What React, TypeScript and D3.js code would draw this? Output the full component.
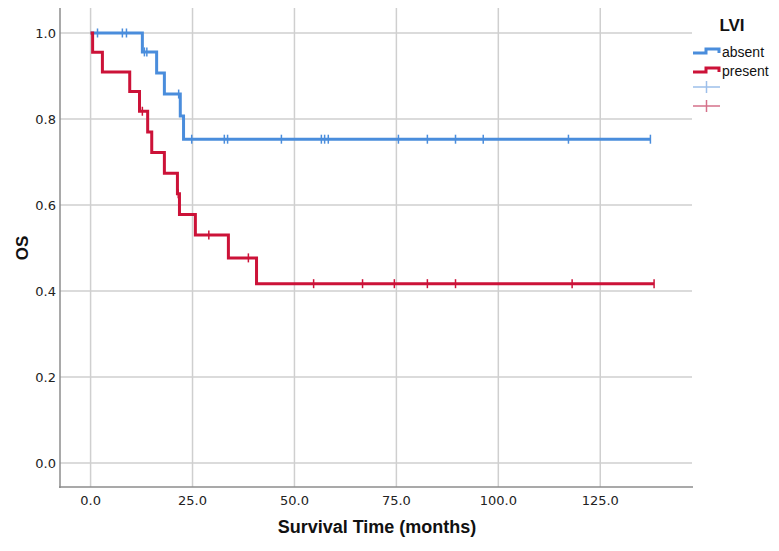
import {useEffect, useRef} from 'react';
import * as d3 from 'd3';

// Kaplan-Meier steps (months, survival)
const absentTimes = [0, 12.7, 16.2, 18.1, 22.0, 22.8];
const absentSurv = [1, 0.956, 0.907, 0.858, 0.807, 0.753];
const absentEnd = 137.3;
const absentCensor = [1.7, 7.8, 8.8, 13.2, 13.8, 21.6, 24.8, 32.8, 33.6, 46.8, 56.6, 57.4, 58.3, 75.5, 82.6, 89.5, 96.3, 117.2, 137.3];

const presentTimes = [0, 0.5, 2.9, 9.6, 12.0, 14.0, 15.0, 18.1, 21.3, 21.8, 25.7, 33.8, 40.7];
const presentSurv = [1, 0.955, 0.909, 0.864, 0.818, 0.770, 0.722, 0.674, 0.626, 0.578, 0.530, 0.477, 0.417];
const presentEnd = 138.2;
const presentCensor = [12.7, 21.5, 29.0, 38.7, 54.7, 66.7, 74.5, 82.6, 89.5, 118.1, 138.2];

const xTicks = [0, 25, 50, 75, 100, 125];
const yTicks = [0, 0.2, 0.4, 0.6, 0.8, 1.0];
const groups = ['absent', 'present'];

const BLUE = '#4a8ddc'
	, RED = '#cc1238'
	, BLUE_L = '#9dbfea'
	, RED_L = '#d4708a'
	, GRID = '#cfcfcf'
	, AXIS = '#8c8c8c';

function App(){
	const ref = useRef(null);

	useEffect(()=>{
		const el = ref.current
			, svg = d3.select(el)
			, x = d3.scaleLinear().domain([-7.5, 147.5]).range([60, 692])
			, y = d3.scaleLinear().domain([-0.0558, 1.0581]).range([487, 8])
			;

		svg.selectAll('*').remove();

		// grid
		const g = svg.append('g');
		g.selectAll('line.v').data(xTicks).enter().append('line')
			.attr('x1', d=>x(d)).attr('x2', d=>x(d)).attr('y1', 8).attr('y2', 487)
			.attr('stroke', GRID).attr('stroke-width', 1.5);
		g.selectAll('line.h').data(yTicks).enter().append('line')
			.attr('x1', 60).attr('x2', 692).attr('y1', d=>y(d)).attr('y2', d=>y(d))
			.attr('stroke', GRID).attr('stroke-width', 1.5);

		// axes
		svg.append('line').attr('x1', 60).attr('x2', 60).attr('y1', 8).attr('y2', 488)
			.attr('stroke', AXIS).attr('stroke-width', 1.5);
		svg.append('line').attr('x1', 59).attr('x2', 693).attr('y1', 487).attr('y2', 487)
			.attr('stroke', AXIS).attr('stroke-width', 1.5);

		svg.selectAll('text.yt').data(yTicks).enter().append('text')
			.attr('x', 56).attr('y', d=>y(d)).attr('dy', '0.35em')
			.attr('text-anchor', 'end').attr('font-size', 13).attr('fill', '#222')
			.attr('font-family', 'DejaVu Sans, sans-serif')
			.text(d=>d.toFixed(1));
		svg.selectAll('text.xt').data(xTicks).enter().append('text')
			.attr('x', d=>x(d)).attr('y', 505)
			.attr('text-anchor', 'middle').attr('font-size', 13).attr('fill', '#222')
			.attr('font-family', 'DejaVu Sans, sans-serif')
			.text(d=>d.toFixed(1));

		svg.append('text').attr('x', 377).attr('y', 533).attr('text-anchor', 'middle')
			.attr('font-family', 'Liberation Sans Narrow, Liberation Sans, Arial, sans-serif')
			.attr('font-weight', 'bold').attr('font-size', 18).attr('fill', '#111')
			.text('Survival Time (months)');
		svg.append('text').attr('transform', 'translate(28,248) rotate(-90)').attr('text-anchor', 'middle')
			.attr('font-family', 'Liberation Sans, Arial, sans-serif')
			.attr('font-weight', 'bold').attr('font-size', 17).attr('fill', '#111')
			.text('OS');

		// curves
		const line = d3.line().x(d=>x(d[0])).y(d=>y(d[1])).curve(d3.curveStepAfter)
			, series = [
				{times: absentTimes, surv: absentSurv, end: absentEnd, censor: absentCensor, color: BLUE}
				, {times: presentTimes, surv: presentSurv, end: presentEnd, censor: presentCensor, color: RED}
			];

		series.forEach((s)=>{
			const pts = s.times.map((t, i)=>[t, s.surv[i]]);
			pts.push([s.end, s.surv[s.surv.length - 1]]);
			svg.append('path').datum(pts).attr('d', line)
				.attr('fill', 'none').attr('stroke', s.color).attr('stroke-width', 3)
				.attr('stroke-linejoin', 'miter');

			const level = (t)=>s.surv[d3.bisectRight(s.times, t) - 1];
			svg.append('g').selectAll('line').data(s.censor).enter().append('line')
				.attr('x1', d=>x(d)).attr('x2', d=>x(d))
				.attr('y1', d=>y(level(d)) - 4.5).attr('y2', d=>y(level(d)) + 4.5)
				.attr('stroke', s.color).attr('stroke-width', 1.5);
		});

		// legend
		const lg = svg.append('g');
		lg.append('text').attr('x', 732).attr('y', 31).attr('text-anchor', 'middle')
			.attr('font-family', 'Liberation Sans, Arial, sans-serif')
			.attr('font-weight', 'bold').attr('font-size', 17).attr('fill', '#111').text('LVI');
		[BLUE, RED].forEach((c, i)=>{
			const yy = 53 + i * 19;
			lg.append('path').attr('d', `M693,${yy} H706 V${yy - 4} H719 V${yy}`)
				.attr('fill', 'none').attr('stroke', c).attr('stroke-width', 3);
			lg.append('text').attr('x', 722).attr('y', yy + 4)
				.attr('font-family', 'Liberation Sans Narrow, Liberation Sans, Arial, sans-serif')
				.attr('font-size', 14).attr('fill', '#111').text(groups[i]);
		});
		[BLUE_L, RED_L].forEach((c, i)=>{
			const yy = 87 + i * 19;
			lg.append('line').attr('x1', 693).attr('x2', 720).attr('y1', yy).attr('y2', yy)
				.attr('stroke', c).attr('stroke-width', 1.5);
			lg.append('line').attr('x1', 706.5).attr('x2', 706.5).attr('y1', yy - 6).attr('y2', yy + 6)
				.attr('stroke', c).attr('stroke-width', 1.5);
		});
	});

	return (<div style={{width: 779, height: 551, position: 'absolute', left: 0, top: 0, background: '#fff'}}>
		<svg ref={ref} width={779} height={551}></svg>
	</div>);
}

export default App;
